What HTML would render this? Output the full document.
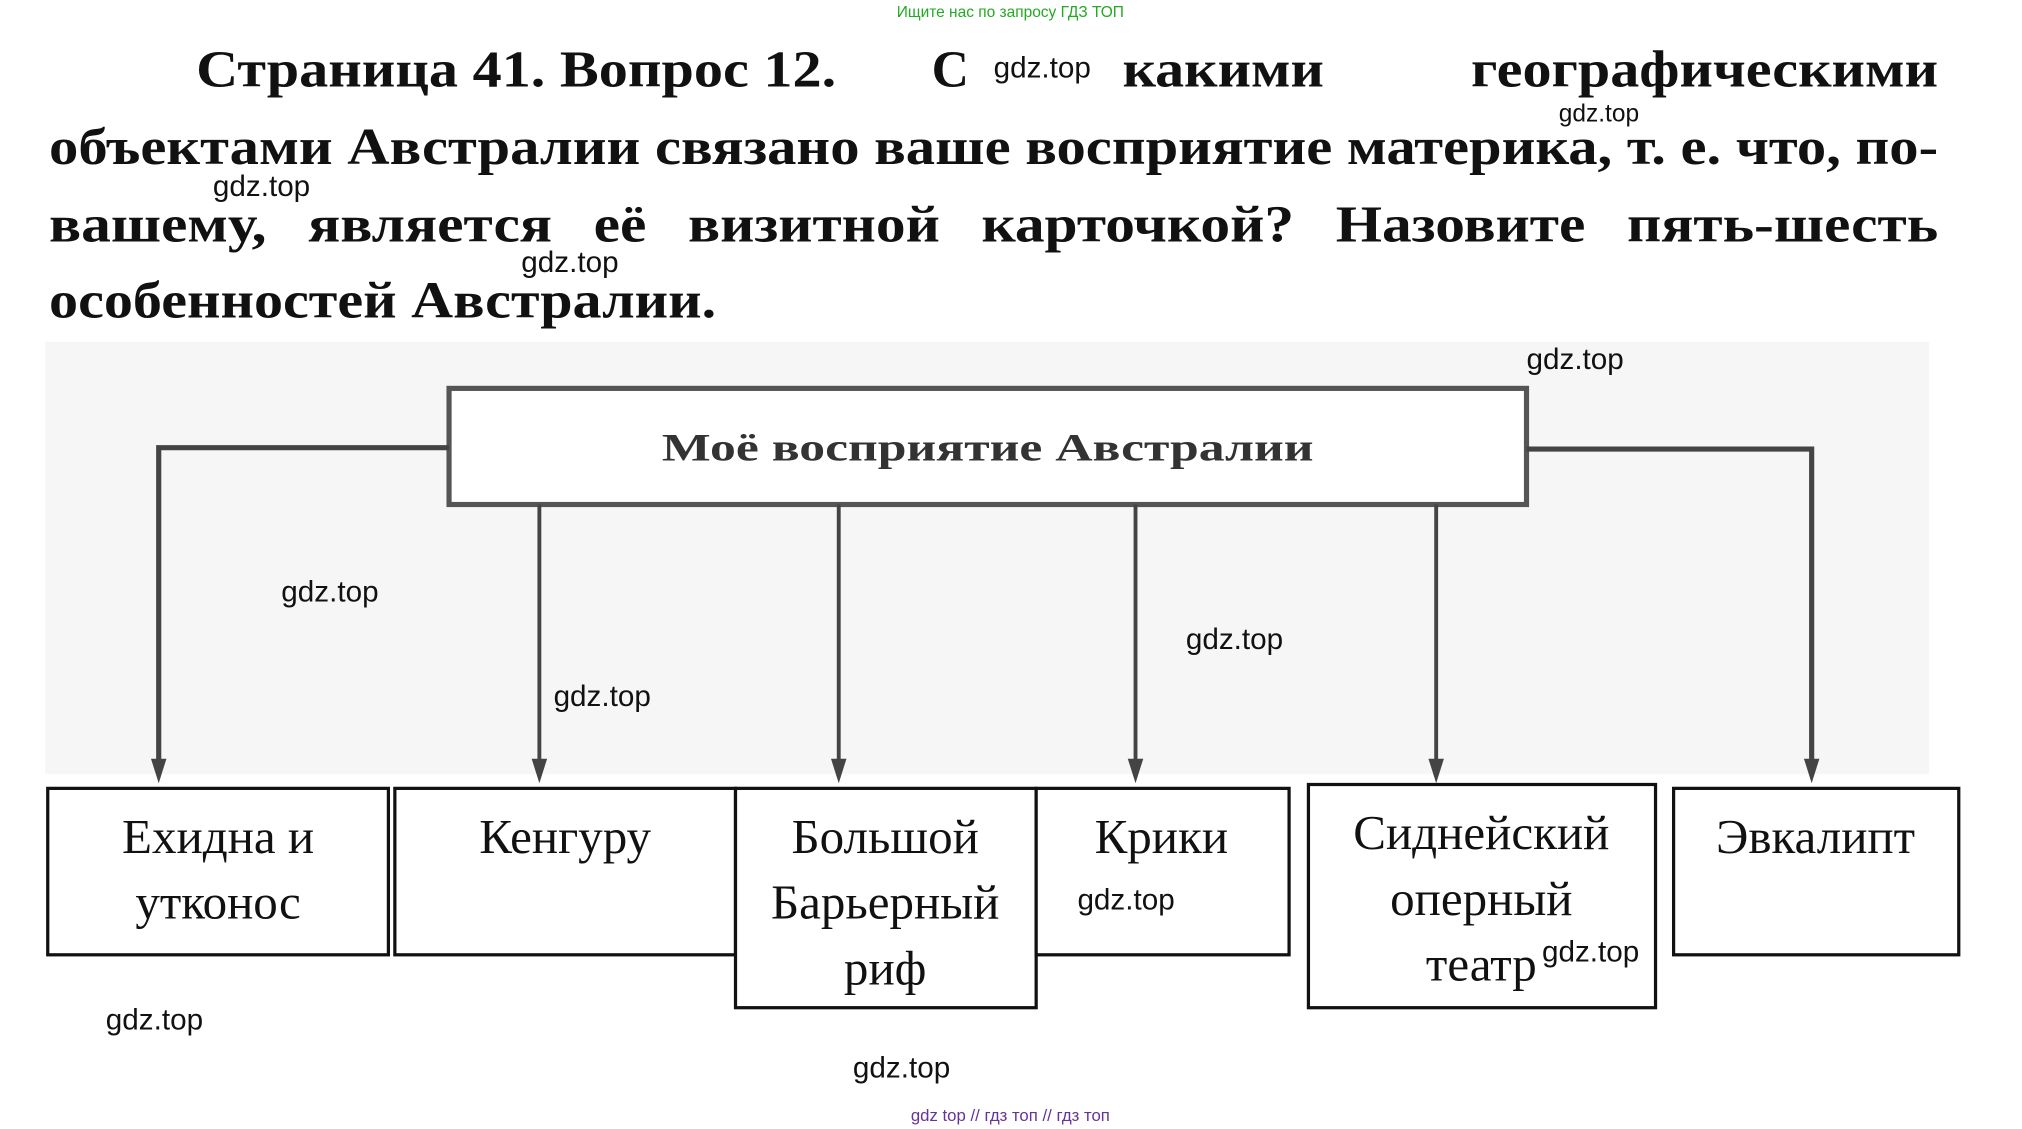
<!DOCTYPE html>
<html><head><meta charset="utf-8"><style>html,body{margin:0;padding:0;background:#fff;width:2022px;height:1129px;overflow:hidden}</style></head><body>
<svg width="2022" height="1129" viewBox="0 0 1567 875" preserveAspectRatio="none" xmlns="http://www.w3.org/2000/svg">
<rect x="0" y="0" width="1567" height="875" fill="#fff"/>
<rect x="35" y="265" width="1460" height="335" fill="#f6f6f6"/>
<text x="783" y="13" font-family="Liberation Sans, sans-serif" font-size="12" fill="#2a2" text-anchor="middle">Ищите нас по запросу ГДЗ ТОП</text>
<g font-family="Liberation Serif, serif" font-weight="bold" font-size="40" fill="#111">
<text x="152" y="67" textLength="496" lengthAdjust="spacingAndGlyphs">Страница 41. Вопрос 12.</text>
<text x="722" y="67">С</text>
<text x="870" y="67" textLength="156" lengthAdjust="spacingAndGlyphs">какими</text>
<text x="1140" y="67" textLength="362" lengthAdjust="spacingAndGlyphs">географическими</text>
<text x="38" y="127" textLength="1464" lengthAdjust="spacingAndGlyphs">объектами Австралии связано ваше восприятие материка, т. е. что, по-</text>
<text x="38" y="187" textLength="1464" lengthAdjust="spacingAndGlyphs" word-spacing="18">вашему, является её визитной карточкой? Назовите пять-шесть</text>
<text x="38" y="246" textLength="517" lengthAdjust="spacingAndGlyphs">особенностей Австралии.</text>
</g>
<g stroke="#444" stroke-width="4" fill="none">
<rect x="348" y="301" width="835" height="90" fill="#fff" stroke="#555"/>
<polyline points="348,347 123,347 123,600"/>
<polyline points="1183,348 1404,348 1404,600"/>
</g>
<g stroke="#444" stroke-width="3">
<line x1="418" y1="391" x2="418" y2="600"/>
<line x1="650" y1="391" x2="650" y2="600"/>
<line x1="880" y1="391" x2="880" y2="600"/>
<line x1="1113" y1="391" x2="1113" y2="600"/>
</g>
<g fill="#444">
<polygon points="117,588 129,588 123,607"/>
<polygon points="412,588 424,588 418,607"/>
<polygon points="644,588 656,588 650,607"/>
<polygon points="874,588 886,588 880,607"/>
<polygon points="1107,588 1119,588 1113,607"/>
<polygon points="1398,588 1410,588 1404,607"/>
</g>
<text x="513" y="357" textLength="505" lengthAdjust="spacingAndGlyphs" font-family="Liberation Serif, serif" font-weight="bold" font-size="30" fill="#333">Моё восприятие Австралии</text>
<g fill="#fff" stroke="#111" stroke-width="2.5">
<rect x="37" y="611" width="264" height="129"/>
<rect x="306" y="611" width="264" height="129"/>
<rect x="570" y="611" width="233" height="170"/>
<rect x="803" y="611" width="196" height="129"/>
<rect x="1014" y="608" width="269" height="173"/>
<rect x="1297" y="611" width="221" height="129"/>
</g>
<g font-family="Liberation Serif, serif" font-size="38" fill="#111" text-anchor="middle">
<text x="169" y="661">Ехидна и</text>
<text x="169" y="712">утконос</text>
<text x="438" y="661">Кенгуру</text>
<text x="686" y="661">Большой</text>
<text x="686" y="712">Барьерный</text>
<text x="686" y="763">риф</text>
<text x="900" y="661">Крики</text>
<text x="1148" y="658">Сиднейский</text>
<text x="1148" y="709">оперный</text>
<text x="1148" y="760">театр</text>
<text x="1407" y="661">Эвкалипт</text>
</g>
<g font-family="Liberation Sans, sans-serif" font-size="23" fill="#111">
<text x="770" y="60">gdz.top</text>
<text x="1208" y="94" font-size="19">gdz.top</text>
<text x="165" y="152">gdz.top</text>
<text x="404" y="211">gdz.top</text>
<text x="1183" y="286">gdz.top</text>
<text x="218" y="466">gdz.top</text>
<text x="919" y="503">gdz.top</text>
<text x="429" y="547">gdz.top</text>
<text x="835" y="705">gdz.top</text>
<text x="1195" y="745">gdz.top</text>
<text x="82" y="798">gdz.top</text>
<text x="661" y="835">gdz.top</text>
</g>
<text x="783" y="869" font-family="Liberation Sans, sans-serif" font-size="13" fill="#639" text-anchor="middle">gdz top // гдз топ // гдз топ</text>
</svg>
</body></html>
